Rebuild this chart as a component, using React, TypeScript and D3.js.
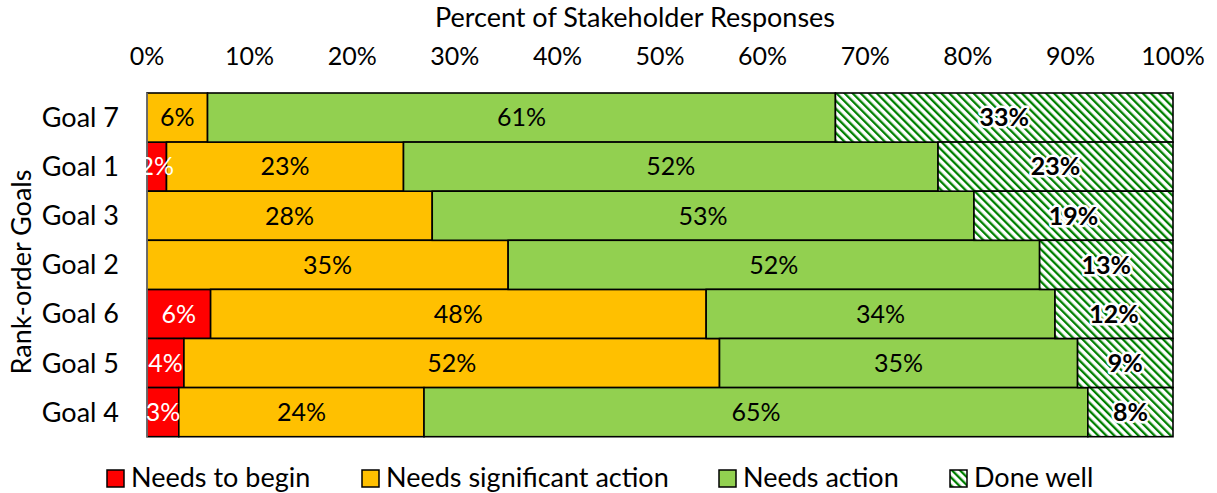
import React, { useEffect, useRef } from "react";
import * as d3 from "d3";

const goals = ["Goal 7", "Goal 1", "Goal 3", "Goal 2", "Goal 6", "Goal 5", "Goal 4"];
const needsToBegin = [0, 1.9, 0, 0, 6.2, 3.6, 3.1];
const needsSignificant = [5.9, 23.1, 27.8, 35.2, 48.3, 52.2, 23.9];
const needsAction = [61.2, 52.1, 52.8, 51.8, 34.0, 34.9, 64.7];
const doneWell = [32.9, 22.9, 19.4, 13.0, 11.5, 9.3, 8.3];
const seriesNames = ["Needs to begin", "Needs significant action", "Needs action", "Done well"];
const xTicks = [0, 10, 20, 30, 40, 50, 60, 70, 80, 90, 100];

const FONT = "Lato, 'DejaVu Sans', sans-serif";
const fills = ["#FF0000", "#FFC000", "#92D050", "url(#doneWellHatch)"];
const labelColors = ["#FFFFFF", "#000000", "#000000", "#000000"];

const App = () => {
  const ref = useRef<SVGSVGElement | null>(null);
  const width = 1217;
  const height = 493;
  const margin = { top: 93, right: 44, bottom: 56, left: 147 };

  useEffect(() => {
    const svg = d3.select(ref.current);
    svg.selectAll("*").remove();

    const defs = svg.append("defs");
    const pat = defs
      .append("pattern")
      .attr("id", "doneWellHatch")
      .attr("patternUnits", "userSpaceOnUse")
      .attr("width", 5.7)
      .attr("height", 5.7)
      .attr("patternTransform", "rotate(-45)");
    pat.append("rect").attr("width", 5.7).attr("height", 5.7).attr("fill", "#fff");
    pat.append("rect").attr("width", 2.3).attr("height", 5.7).attr("fill", "#008000");

    const series = [needsToBegin, needsSignificant, needsAction, doneWell];
    const rows = goals.map((g, i) => {
      const row: any = { goal: g };
      series.forEach((s, k) => (row[seriesNames[k]] = s[i]));
      return row;
    });
    const stacked = d3.stack().keys(seriesNames)(rows);

    const x = d3
      .scaleLinear()
      .domain([0, 100])
      .range([margin.left, width - margin.right]);
    const y = d3
      .scaleBand()
      .domain(goals)
      .range([margin.top, height - margin.bottom - 0.3])
      .padding(0);

    // x axis on top, labels only
    svg
      .append("g")
      .selectAll("text")
      .data(xTicks)
      .join("text")
      .attr("x", (d) => x(d))
      .attr("y", 56)
      .attr("dy", "0.35em")
      .attr("text-anchor", "middle")
      .style("font-family", FONT)
      .style("font-size", "25px")
      .style("fill", "#000")
      .text((d) => d + "%");

    svg
      .append("text")
      .attr("x", 635)
      .attr("y", 18)
      .attr("dy", "0.35em")
      .attr("text-anchor", "middle")
      .style("font-family", FONT)
      .style("font-size", "27px")
      .text("Percent of Stakeholder Responses");

    // y labels
    svg
      .append("g")
      .selectAll("text")
      .data(goals)
      .join("text")
      .attr("x", 119)
      .attr("y", (d) => (y(d) as number) + y.bandwidth() / 2)
      .attr("dy", "0.35em")
      .attr("text-anchor", "end")
      .style("font-family", FONT)
      .style("font-size", "27px")
      .text((d) => d);

    svg
      .append("text")
      .attr("transform", `translate(22,272) rotate(-90)`)
      .attr("dy", "0.35em")
      .attr("text-anchor", "middle")
      .style("font-family", FONT)
      .style("font-size", "27px")
      .text("Rank-order Goals");

    // bars
    stacked.forEach((layer: any, k) => {
      svg
        .append("g")
        .selectAll("rect")
        .data(layer.filter((d: any) => d[1] - d[0] > 0))
        .join("rect")
        .attr("x", (d: any) => x(d[0]))
        .attr("y", (d: any) => y(d.data.goal) as number)
        .attr("width", (d: any) => x(d[1]) - x(d[0]))
        .attr("height", y.bandwidth())
        .attr("fill", fills[k])
        .attr("stroke", "#000")
        .attr("stroke-width", 1.6);
    });

    // left axis line
    svg
      .append("line")
      .attr("x1", margin.left)
      .attr("x2", margin.left)
      .attr("y1", margin.top)
      .attr("y2", height - margin.bottom)
      .attr("stroke", "#808080")
      .attr("stroke-width", 1.5);

    // data labels
    stacked.forEach((layer: any, k) => {
      svg
        .append("g")
        .selectAll("text")
        .data(layer.filter((d: any) => d[1] - d[0] > 0))
        .join("text")
        .attr("x", (d: any) => x((d[0] + d[1]) / 2))
        .attr("y", (d: any) => (y(d.data.goal) as number) + y.bandwidth() / 2)
        .attr("dy", "0.35em")
        .attr("text-anchor", "middle")
        .style("font-family", FONT)
        .style("font-size", "25px")
        .style("font-weight", k === 3 ? "bold" : "normal")
        .style("fill", labelColors[k])
        .style("stroke", k === 3 ? "#fff" : "none")
        .style("stroke-width", k === 3 ? 5 : 0)
        .style("stroke-linejoin", "round")
        .style("paint-order", "stroke")
        .text((d: any) => Math.round(d[1] - d[0]) + "%");
    });

    // legend
    const legendX = [107, 362, 719, 950];
    const legend = svg
      .append("g")
      .selectAll("g")
      .data(seriesNames)
      .join("g")
      .attr("transform", (d, i) => `translate(${legendX[i]},478)`);
    legend
      .append("rect")
      .attr("x", 0)
      .attr("y", -8)
      .attr("width", 17)
      .attr("height", 17)
      .attr("fill", (d, i) => fills[i])
      .attr("stroke", "#000")
      .attr("stroke-width", 1.5);
    legend
      .append("text")
      .attr("x", 24)
      .attr("y", 0)
      .attr("dy", "0.35em")
      .style("font-family", FONT)
      .style("font-size", "27px")
      .text((d) => d);
  }, []);

  return (
    <svg
      ref={ref}
      width={width}
      height={height}
      style={{ display: "block", position: "absolute", left: 0, top: 0, background: "#fff" }}
    />
  );
};

export default App;
